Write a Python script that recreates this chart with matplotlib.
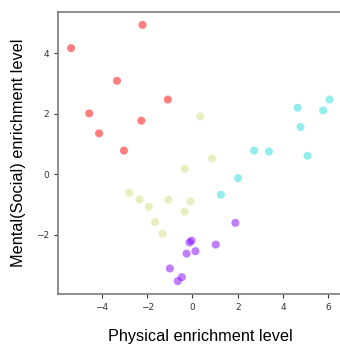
import numpy as np
import matplotlib
matplotlib.use("Agg")
import matplotlib.pyplot as plt

# valores, por grupo
fisico_vermelho = [-5.37, -2.21, -3.34, -1.09, -4.57, -2.26, -4.13, -3.03]
mental_vermelho = [4.17, 4.94, 3.09, 2.47, 2.01, 1.77, 1.35, 0.78]

fisico_ciano = [6.06, 4.65, 5.78, 4.78, 5.09, 2.73, 3.38, 2.02, 1.26]
mental_ciano = [2.47, 2.20, 2.11, 1.56, 0.61, 0.78, 0.75, -0.13, -0.68]

fisico_amarelo = [0.34, 0.87, -0.34, -2.79, -2.34, -1.93, -1.07, -0.09, -0.35, -1.65, -1.32]
mental_amarelo = [1.91, 0.52, 0.17, -0.62, -0.84, -1.08, -0.85, -0.90, -1.24, -1.58, -1.97]

fisico_roxo = [1.90, 1.03, -0.04, -0.13, 0.13, -0.26, -1.00, -0.47, -0.65]
mental_roxo = [-1.61, -2.33, -2.20, -2.26, -2.55, -2.63, -3.12, -3.41, -3.54]

grupos = [
    (fisico_roxo, mental_roxo, 0),
    (fisico_ciano, mental_ciano, 1),
    (fisico_amarelo, mental_amarelo, 2),
    (fisico_vermelho, mental_vermelho, 3),
]

x = np.concatenate([g[0] for g in grupos])
y = np.concatenate([g[1] for g in grupos])
rotulos = np.concatenate([[g[2]] * len(g[0]) for g in grupos])

fig = plt.figure(figsize=(3.4, 3.45), dpi=100)
ax = fig.add_axes([0.171, 0.148, 0.836, 0.817])
ax.scatter(x, y, c=rotulos, cmap="rainbow", alpha=0.5, s=34, edgecolors="none")

for lado in ["left", "bottom", "top", "right"]:
    ax.spines[lado].set_color("#7a7a7a")
    ax.spines[lado].set_linewidth(1.2)

ax.set_xticks([-4, -2, 0, 2, 4, 6])
ax.set_yticks([-2, 0, 2, 4])
ax.tick_params(labelsize=6.5, length=3, width=0.8, colors="#333333")

ax.set_xlabel("Physical enrichment level", fontsize=11.7, family="Liberation Sans", labelpad=12)
ax.set_ylabel("Mental(Social) enrichment level", fontsize=11.7, family="Liberation Sans", labelpad=7)

fig.savefig("out.png", dpi=100)
